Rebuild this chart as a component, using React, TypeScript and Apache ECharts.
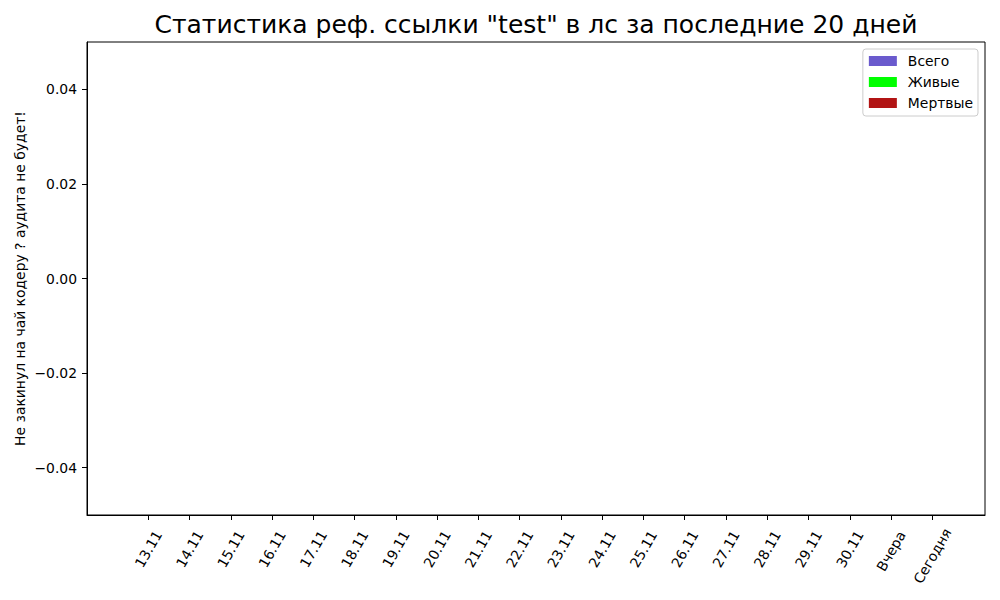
import React, { useEffect, useRef } from "react";
import * as echarts from "echarts";

const categories = [
  "13.11", "14.11", "15.11", "16.11", "17.11", "18.11", "19.11", "20.11", "21.11", "22.11",
  "23.11", "24.11", "25.11", "26.11", "27.11", "28.11", "29.11", "30.11", "Вчера", "Сегодня",
];
const totalValues = [0, 0, 0, 0, 0, 0, 0, 0, 0, 0, 0, 0, 0, 0, 0, 0, 0, 0, 0, 0];
const aliveValues = [0, 0, 0, 0, 0, 0, 0, 0, 0, 0, 0, 0, 0, 0, 0, 0, 0, 0, 0, 0];
const deadValues = [0, 0, 0, 0, 0, 0, 0, 0, 0, 0, 0, 0, 0, 0, 0, 0, 0, 0, 0, 0];
const yTicks = [-0.04, -0.02, 0, 0.02, 0.04];

const titleText = 'Статистика реф. ссылки "test" в лс за последние 20 дней';
const yLabel = "Не закинул на чай кодеру ? аудита не будет!";
const seriesNames = ["Всего", "Живые", "Мертвые"];
const seriesColors = ["#6a5acd", "#00ff00", "#b21414"];

const FONT = "DejaVu Sans";
const FS = 13.9;

export default function App() {
  const ref = useRef<HTMLDivElement>(null);
  useEffect(() => {
    if (!ref.current) return;
    const chart = echarts.init(ref.current, undefined, { renderer: "svg" });
    const idx = categories.map((_, i) => i);
    const mk = (vals: number[], k: number) => ({
      name: seriesNames[k],
      type: "bar",
      barWidth: 12,
      barGap: "0%",
      itemStyle: { color: seriesColors[k] },
      data: vals.map((v, i) => [i, v]),
    });
    chart.setOption({
      animation: false,
      textStyle: { fontFamily: FONT },
      title: {
        text: titleText,
        left: 536,
        top: 12,
        textAlign: "center",
        padding: 0,
        textStyle: { fontFamily: FONT, fontSize: 25, fontWeight: "normal", color: "#000" },
      },
      legend: {
        data: seriesNames,
        orient: "vertical",
        right: 22,
        top: 49,
        icon: "rect",
        itemWidth: 28,
        itemHeight: 10,
        itemGap: 7,
        padding: [5, 5, 6, 6],
        borderColor: "#cccccc",
        borderWidth: 1,
        borderRadius: 3,
        backgroundColor: "rgba(255,255,255,0.8)",
        textStyle: { fontFamily: FONT, fontSize: FS, lineHeight: 14, color: "#000", padding: [0, 0, 0, 6] },
      },
      grid: {
        left: 87,
        right: 15,
        top: 42,
        bottom: 85,
        show: true,
        borderColor: "#000",
        borderWidth: 1,
        backgroundColor: "transparent",
      },
      xAxis: {
        type: "value",
        min: -1.486,
        max: 20.277,
        axisLine: { show: true, onZero: false, lineStyle: { color: "#000", width: 1 } },
        axisTick: { show: true, length: 5, customValues: idx, lineStyle: { color: "#000" } },
        splitLine: { show: false },
        axisLabel: {
          customValues: idx,
          rotate: 60,
          align: "center",
          verticalAlign: "middle",
          margin: 34,
          color: "#000",
          fontFamily: FONT,
          fontSize: FS,
          formatter: (v: number) => {
            const name = categories[Math.round(v)] ?? "";
            if (name === "Сегодня") return "{s|" + name + "}";
            if (name === "Вчера") return "{v|" + name + "}";
            return name;
          },
          rich: {
            s: { fontFamily: FONT, fontSize: FS, color: "#000", padding: [7, 12, 0, 0] },
            v: { fontFamily: FONT, fontSize: FS, color: "#000", padding: [2, 3.5, 0, 0] },
          },
        },
      },
      yAxis: {
        type: "value",
        min: -0.05,
        max: 0.05,
        name: yLabel,
        nameLocation: "middle",
        nameGap: 60,
        nameMoveOverlap: false,
        nameTextStyle: { fontFamily: FONT, fontSize: FS, color: "#000" },
        axisLine: { show: true, onZero: false, lineStyle: { color: "#000", width: 1 } },
        axisTick: { show: true, length: 5, customValues: yTicks, lineStyle: { color: "#000" } },
        splitLine: { show: false },
        axisLabel: {
          customValues: yTicks,
          margin: 10,
          color: "#000",
          fontFamily: FONT,
          fontSize: FS,
          formatter: (v: number) => (Math.abs(v) < 1e-9 ? "0.00" : v.toFixed(2).replace("-", "\u2212")),
        },
      },
      series: [mk(totalValues, 0), mk(aliveValues, 1), mk(deadValues, 2)],
    });
    return () => chart.dispose();
  }, []);
  return (
    <div
      ref={ref}
      style={{ position: "fixed", left: 0, top: 0, width: 1000, height: 600, background: "#fff" }}
    />
  );
}
